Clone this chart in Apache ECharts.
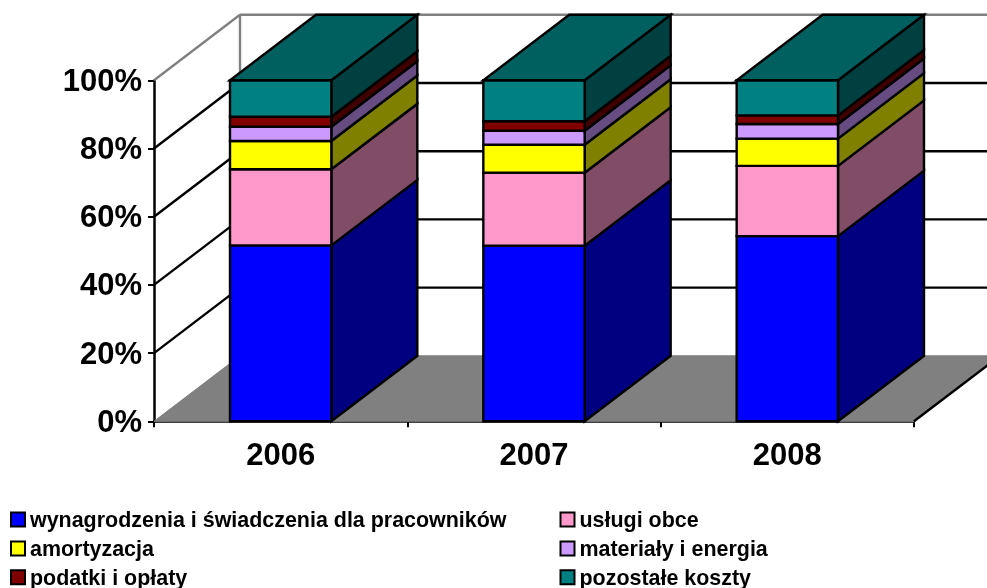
<!DOCTYPE html>
<html>
<head>
<meta charset="utf-8">
<title>Struktura kosztów</title>
<script src="https://cdn.jsdelivr.net/npm/echarts@6/dist/echarts.min.js"></script>
<style>
html,body{margin:0;padding:0;background:#fff;}
#chart{width:987px;height:588px;}
</style>
</head>
<body>
<div id="chart"></div>
<script>
var years = ['2006', '2007', '2008'];
var yTicks = [20, 40, 60, 80];

// udział w kosztach
var wynagrodzenia = [51.6, 51.5, 54.3];
var uslugi = [22.3, 21.4, 20.6];
var amortyzacja = [8.3, 8.2, 8.0];
var materialy = [4.2, 4.1, 4.3];
var podatki = [2.9, 2.8, 2.5];
var pozostale = [10.7, 12.0, 10.3];

var names = [
    'wynagrodzenia i świadczenia dla pracowników',
    'usługi obce',
    'amortyzacja',
    'materiały i energia',
    'podatki i opłaty',
    'pozostałe koszty'
];
var values = [wynagrodzenia, uslugi, amortyzacja, materialy, podatki, pozostale];
var frontColors = ['#0000ff', '#ff99cc', '#ffff00', '#cc99ff', '#800000', '#008080'];
var sideColors = ['#000080', '#804c66', '#808000', '#664c80', '#400000', '#004040'];
var topColor = '#006060';

// głębokość efektu 3D
var depthX = 86;
var depthY = 65.5;

var myChart = echarts.init(document.getElementById('chart'));

function poly(points, fill, stroke, width) {
    return {
        type: 'polygon',
        shape: {points: points},
        style: {fill: fill, stroke: stroke, lineWidth: width, lineJoin: 'miter'}
    };
}

function line(a, b, color, width) {
    return {
        type: 'line',
        shape: {x1: a[0], y1: a[1], x2: b[0], y2: b[1]},
        style: {stroke: color, lineWidth: width}
    };
}

function back(p) {
    return [p[0] + depthX, p[1] - depthY];
}

// ściany i podłoga
function renderWalls(params, api) {
    var band = api.size([1, 0])[0];
    var left = api.coord([0, 0])[0] - band / 2;
    var right = left + band * years.length;
    var y0 = api.coord([0, 0])[1];
    var y100 = api.coord([0, 100])[1];
    var children = [];
    children.push(poly([[left, y0], [right, y0], back([right, y0]), back([left, y0])], '#808080', '#808080', 1));
    yTicks.forEach(function (t) {
        var y = api.coord([0, t])[1];
        children.push(line([left, y], back([left, y]), '#000', 2.4));
        children.push(line(back([left, y]), back([right, y]), '#000', 2.4));
    });
    children.push(line([left, y100], back([left, y100]), '#808080', 2.4));
    children.push(line(back([left, y100]), back([right, y100]), '#808080', 2.4));
    children.push(line(back([left, y0]), back([left, y100]), '#808080', 2.4));
    children.push(line([right, y0], back([right, y0]), '#000', 2.4));
    return {type: 'group', children: children};
}

// jeden segment słupka: przód, bok i ewentualnie góra
function makeRender(s) {
    return function (params, api) {
        var cx = api.coord([api.value(0), 0])[0];
        var half = api.size([1, 0])[0] * 0.2;
        var yLow = api.coord([0, api.value(1)])[1];
        var yHigh = api.coord([0, api.value(2)])[1];
        var x1 = cx - half;
        var x2 = cx + half;
        var children = [
            poly([[x2, yLow], back([x2, yLow]), back([x2, yHigh]), [x2, yHigh]], sideColors[s], '#000', 2.4),
            poly([[x1, yLow], [x2, yLow], [x2, yHigh], [x1, yHigh]], frontColors[s], '#000', 2.4)
        ];
        if (s === values.length - 1) {
            children.push(poly([[x1, yHigh], [x2, yHigh], back([x2, yHigh]), back([x1, yHigh])], topColor, '#000', 2.4));
        }
        return {type: 'group', children: children};
    };
}

var series = [{
    type: 'custom',
    silent: true,
    clip: false,
    z: 1,
    renderItem: renderWalls,
    data: [[0, 0]]
}];

var base = years.map(function () { return 0; });
names.forEach(function (name, s) {
    var data = years.map(function (y, i) {
        var low = base[i];
        base[i] = low + values[s][i];
        return [i, low, base[i]];
    });
    series.push({
        type: 'custom',
        name: name,
        clip: false,
        silent: true,
        z: 2 + s,
        itemStyle: {color: frontColors[s]},
        renderItem: makeRender(s),
        encode: {x: 0, y: [1, 2]},
        data: data
    });
});

function legendColumn(items, left) {
    return {
        orient: 'vertical',
        left: left,
        top: 510.5,
        height: 200,
        padding: 0,
        icon: 'rect',
        itemWidth: 14,
        itemHeight: 14,
        itemGap: 7.9,
        selectedMode: false,
        itemStyle: {borderColor: '#000', borderWidth: 2},
        formatter: '{a|{name}}',
        textStyle: {
            color: '#000',
            rich: {
                a: {
                    color: '#000',
                    fontFamily: 'Liberation Sans',
                    fontWeight: 'bold',
                    fontSize: 21.45,
                    padding: [3, 0, 0, 0]
                }
            }
        },
        data: items
    };
}

var option = {
    animation: false,
    backgroundColor: '#fff',
    grid: {left: 154, right: 73, top: 80.3, bottom: 166.7, containLabel: false},
    legend: [
        legendColumn([names[0], names[2], names[4]], 10),
        legendColumn([names[1], names[3], names[5]], 559.5)
    ],
    xAxis: {
        type: 'category',
        data: years,
        axisLine: {show: true, lineStyle: {color: '#000', width: 2.5}},
        axisTick: {show: true, length: 6, lineStyle: {color: '#000', width: 2}},
        axisLabel: {
            color: '#000',
            fontFamily: 'Liberation Sans',
            fontWeight: 'bold',
            fontSize: 31,
            margin: 20
        }
    },
    yAxis: {
        type: 'value',
        min: 0,
        max: 100,
        interval: 20,
        splitLine: {show: false},
        axisLine: {show: true, lineStyle: {color: '#000', width: 2.5}},
        axisTick: {show: true, length: 6, lineStyle: {color: '#000', width: 2}},
        axisLabel: {
            color: '#000',
            fontFamily: 'Liberation Sans',
            fontWeight: 'bold',
            fontSize: 31,
            margin: 12,
            verticalAlign: 'top',
            padding: [-13.5, 0, 0, 0],
            formatter: '{value}%'
        }
    },
    series: series
};
myChart.setOption(option);
</script>
</body>
</html>
